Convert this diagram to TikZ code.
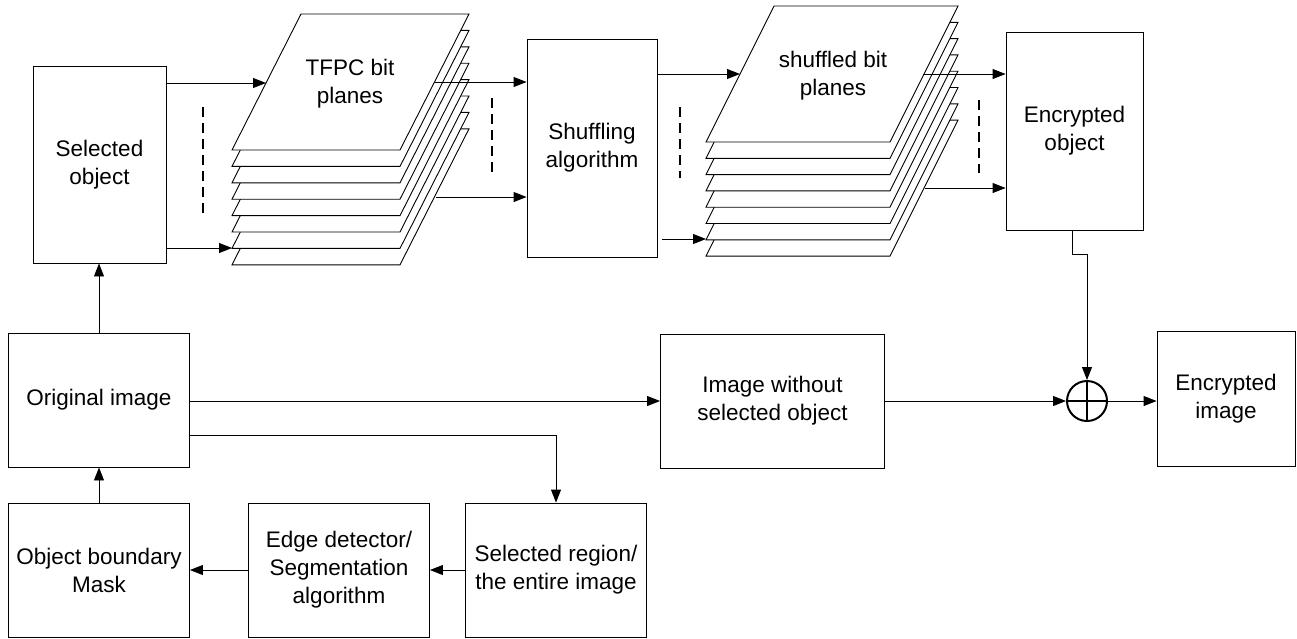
\documentclass[tikz,border=0pt]{standalone}
\usepackage{fontspec}
\setmainfont{Liberation Sans}
\usetikzlibrary{arrows.meta}
\begin{document}
\begin{tikzpicture}[x=1pt,y=-1pt,
  box/.style={draw, line width=0.9pt, align=center, inner sep=0pt, font=\fontsize{22.5}{28}\selectfont},
  arr/.style={draw, line width=0.9pt, -{Triangle[length=13pt,width=10pt]}},
  dsh/.style={draw, line width=1.2pt, dash pattern=on 10pt off 6pt},
  plane/.style={draw, line width=0.9pt, fill=white, line join=miter},
  lbl/.style={align=center, font=\fontsize{22.5}{28}\selectfont}]
\useasboundingbox (0,0) rectangle (1297,638);

% boxes
\node[box, minimum width=133pt, minimum height=197pt] (so) at (99.5,164.5) {Selected\\object};
\node[box, minimum width=130pt, minimum height=218pt] (sh) at (592,148) {Shuffling\\algorithm};
\node[box, minimum width=137pt, minimum height=198pt] (eo) at (1074.5,131) {Encrypted\\object};
\node[box, minimum width=181pt, minimum height=134pt] (oi) at (99,400) {Original image};
\node[box, minimum width=181pt, minimum height=134pt] (om) at (99,570) {Object boundary\\Mask};
\node[box, minimum width=181pt, minimum height=134pt] (ed) at (339,570) {Edge detector/\\Segmentation\\algorithm};
\node[box, minimum width=181pt, minimum height=134pt] (sr) at (556,570) {Selected region/\\the entire image};
\node[box, minimum width=224pt, minimum height=134pt] (iw) at (772.5,401) {Image without\\selected object};
\node[box, minimum width=138pt, minimum height=135pt] (ei) at (1226,398.5) {Encrypted\\image};
\node[draw, circle, line width=2pt, minimum size=40pt, inner sep=0pt] (xor) at (1087,401) {};
\draw[line width=2pt] (xor.north) -- (xor.south) (xor.west) -- (xor.east);

% TFPC bit planes
\foreach \k in {7,6,...,0}{
  \path[plane] (232,{150+16.4*\k}) -- (400,{150+16.4*\k}) -- (469,{14+16.4*\k}) -- (301,{14+16.4*\k}) -- cycle;
}
\node[lbl] (tp) at (350,84) {TFPC bit\\planes};

% shuffled bit planes
\foreach \k in {7,6,...,0}{
  \path[plane] (706,{142+16.3*\k}) -- (890,{142+16.3*\k}) -- (958,{6+16.3*\k}) -- (774,{6+16.3*\k}) -- cycle;
}
\node[lbl] (sp) at (833,76) {shuffled bit\\planes};

% plane anchor coordinates
\coordinate (t1) at (266,83);
\coordinate (t2) at (232,248);
\coordinate (t3) at (435,82);
\coordinate (t4) at (436,197);
\coordinate (s1) at (740,74);
\coordinate (s2) at (706,239);
\coordinate (s3) at (923,74);
\coordinate (s4) at (925,188);

% arrows into / out of planes
\draw[arr] (so.east |- t1) -- (t1);
\draw[arr] (so.east |- t2) -- (t2);
\draw[arr] (t3) -- (sh.west |- t3);
\draw[arr] (t4) -- (sh.west |- t4);
\draw[arr] (sh.east |- s1) -- (s1);
\draw[arr] ([xshift=5pt]sh.east |- s2) -- (s2);
\draw[arr] (s3) -- (eo.west |- s3);
\draw[arr] (s4) -- (eo.west |- s4);

% dashed separators
\coordinate (d1a) at (203,107); \coordinate (d1b) at (203,218);
\coordinate (d2a) at (492,98);  \coordinate (d2b) at (492,173);
\coordinate (d3a) at (680,107); \coordinate (d3b) at (680,178);
\coordinate (d4a) at (979,100); \coordinate (d4b) at (979,173);
\path[dsh] (d1a) -- (d1b);
\path[dsh] (d2a) -- (d2b);
\path[dsh] (d3a) -- (d3b);
\path[dsh] (d4a) -- (d4b);

% lower flow
\draw[arr] (om.north) -- (oi.south);
\draw[arr] (oi.north) -- (so.south -| oi.north);
\draw[arr] (oi.east |- iw.west) -- (iw.west);
\coordinate (c1) at (556,435);
\draw[arr] (oi.east |- c1) -- (c1) -- (sr.north);
\draw[arr] (sr.west) -- (ed.east);
\draw[arr] (ed.west) -- (om.east);
\draw[arr] (iw.east) -- (xor.west);
\draw[arr] (xor.east) -- (ei.west |- xor.east);
\coordinate (c2) at (1072,254);
\draw[arr] (eo.south -| c2) -- (c2) -- (c2 -| xor.north) -- (xor.north);
\end{tikzpicture}
\end{document}
